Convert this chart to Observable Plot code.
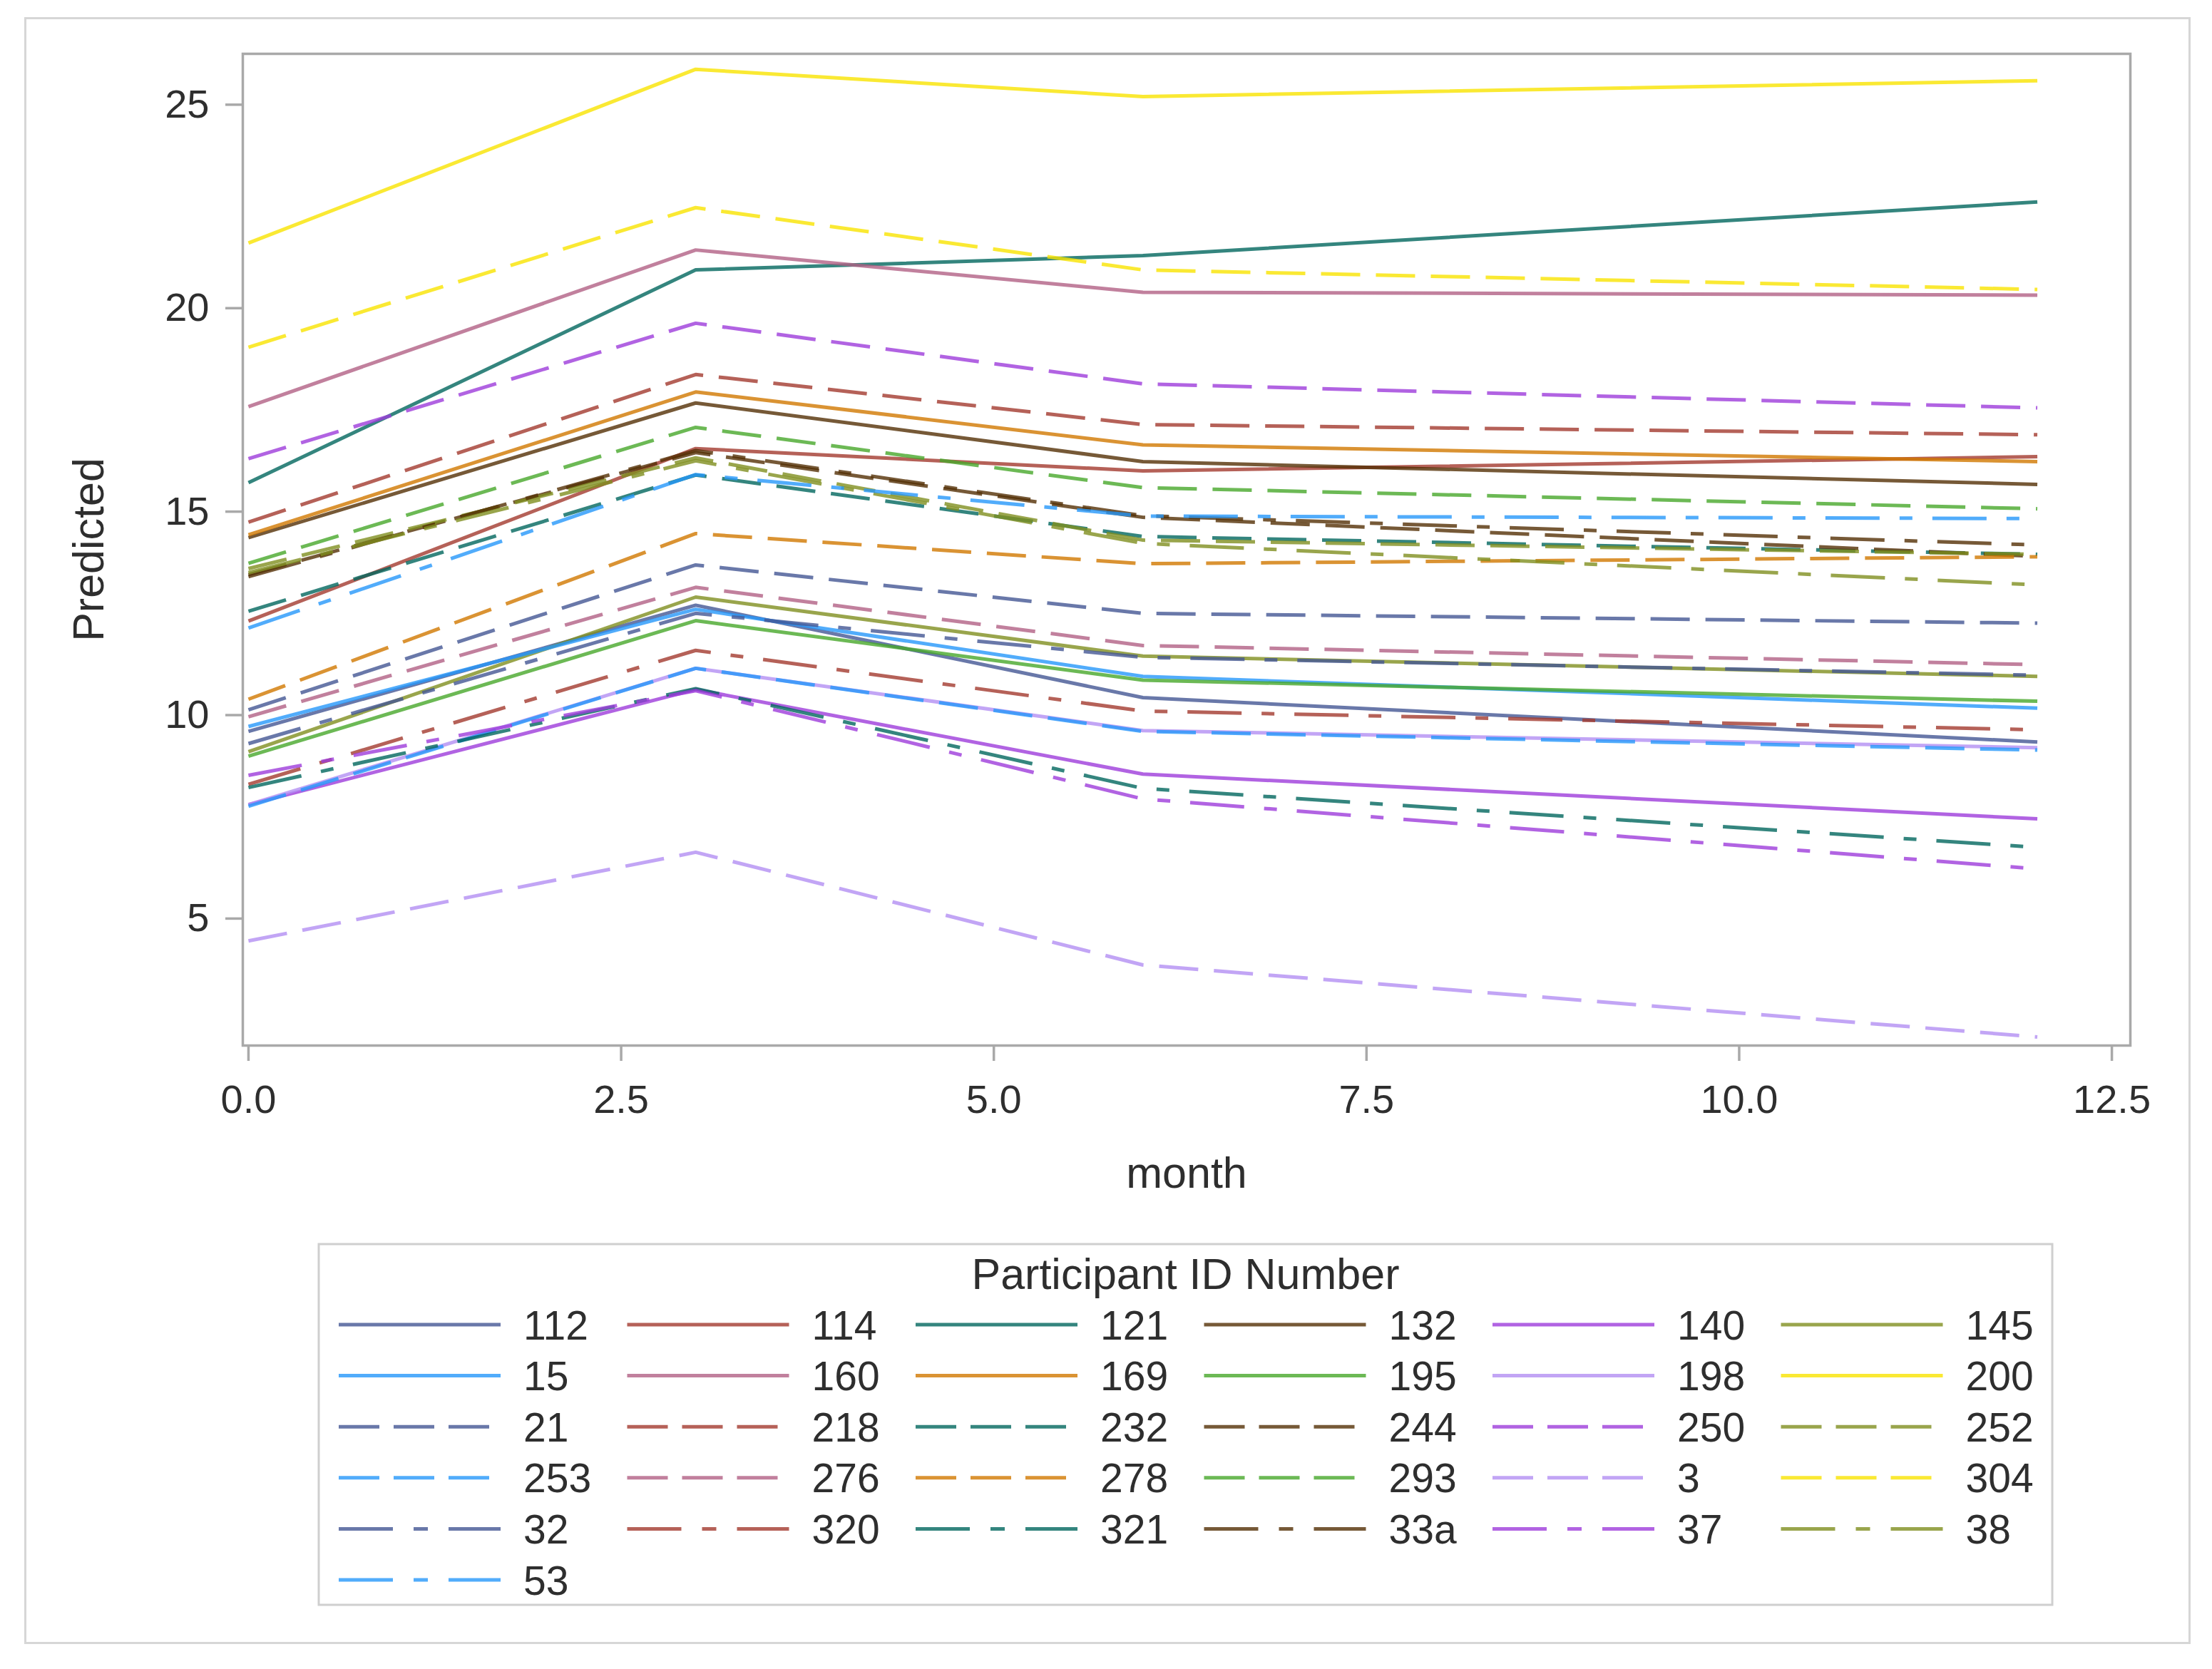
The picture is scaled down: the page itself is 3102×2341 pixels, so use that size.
<!DOCTYPE html>
<html>
<head>
<meta charset="utf-8">
<script src="https://cdn.jsdelivr.net/npm/d3@7"></script>
<script src="https://cdn.jsdelivr.net/npm/@observablehq/plot@0.6"></script>
<style>
  html, body { margin: 0; padding: 0; background: #ffffff; }
  body { width: 3102px; height: 2341px; position: relative; overflow: hidden; font-family: "Liberation Sans", Arial, sans-serif; }
  #outer { position: absolute; left: 34px; top: 24px; width: 3038px; height: 2282px; border: 3px solid #d6d6d6; box-sizing: border-box; }
  #chart { position: absolute; left: 0; top: 0; }
  #legend { position: absolute; left: 0; top: 0; }
</style>
</head>
<body>
<div id="outer"></div>
<div id="chart"></div>
<div id="legend"></div>
<script>
// ---------- data ----------
const months = [0, 3, 6, 12];
const ids = ["112","114","121","132","140","145",
             "15","160","169","195","198","200",
             "21","218","232","244","250","252",
             "253","276","278","293","3","304",
             "32","320","321","33a","37","38",
             "53"];
const month0  = [9.60,12.31,15.71,14.36,7.80,9.10, 9.72,17.58,14.43,8.99,7.80,21.60, 10.13,14.74,12.55,13.45,16.30,13.60, 7.76,9.96,10.39,13.73,4.45,19.04, 9.30,8.30,8.22,13.40,8.52,13.50, 12.14];
const month3  = [12.70,16.55,20.94,17.67,10.63,12.90, 12.60,21.43,17.94,12.32,11.15,25.87, 13.69,18.37,15.90,16.45,19.63,16.32, 11.15,13.14,14.46,17.07,6.63,22.47, 12.50,11.59,10.65,16.50,10.60,16.25, 15.91];
const month6  = [10.43,16.00,21.29,16.23,8.55,11.45, 10.95,20.39,16.64,10.86,9.62,25.20, 12.50,17.14,14.39,14.86,18.14,14.30, 9.60,11.71,13.72,15.59,3.86,20.94, 11.42,10.10,8.20,14.90,7.94,14.22, 14.89];
const month12 = [9.34,16.35,22.61,15.67,7.45,10.95, 10.17,20.32,16.23,10.34,9.20,25.59, 12.26,16.89,13.95,13.90,17.55,13.95, 9.14,11.24,13.89,15.07,2.09,20.46, 10.98,9.64,6.75,14.18,6.22,13.20, 14.83];
const palette = ["#445694","#A23A2E","#01665E","#543005","#9D3CDB","#7F8E1F",
                 "#2597FA","#B26084","#D17800","#47A82A","#B38EF3","#F9E300"];
const styleNames = ["solid","dashed","dashdot"];
const xTicks = [0, 2.5, 5, 7.5, 10, 12.5];
const yTicks = [5, 10, 15, 20, 25];

// ---------- build table ----------
const seriesValues = [month0, month3, month6, month12];
const styleOf = (i) => i < 12 ? "solid" : (i < 24 ? "dashed" : "dashdot");
const rows = [];
ids.forEach((id, i) => {
  months.forEach((m, j) => rows.push({id, month: m, value: seriesValues[j][i], style: styleOf(i)}));
});
const colorRange = ids.map((_, i) => palette[i % 12]);
const dashes = {solid: null, dashed: "55,22", dashdot: "76,28,18,28"};

const FONT = "'Liberation Sans', Arial, sans-serif";
const W = 3102, H = 1720;
const mL = 340, mR = 115, mT = 75, mB = H - 1466;
const LINE_W = 5, LINE_OP = 0.8;

const lineMarks = styleNames.map(s => Plot.line(rows.filter(r => r.style === s), {
  x: "month", y: "value", z: "id", stroke: "id",
  strokeWidth: LINE_W, strokeOpacity: LINE_OP,
  strokeDasharray: dashes[s] || undefined,
  strokeLinecap: "butt", strokeLinejoin: "miter"
}));

const chart = Plot.plot({
  width: W, height: H,
  marginLeft: mL, marginRight: mR, marginTop: mT, marginBottom: mB,
  style: {fontFamily: FONT, fontSize: "56px", color: "#2e2e2e", background: "transparent"},
  x: {domain: [-0.038, 12.624]},
  y: {domain: [1.88, 26.25]},
  color: {domain: ids, range: colorRange},
  marks: [
    ...lineMarks,
    Plot.frame({stroke: "#a9a9a9", strokeWidth: 3.5}),
    Plot.axisX({ticks: xTicks, tickFormat: d3.format(".1f"), tickSize: 22, tickPadding: 33,
                stroke: "#a9a9a9", strokeWidth: 3.5, fill: "#2e2e2e", fontSize: 56, label: null}),
    Plot.axisY({ticks: yTicks, tickFormat: d3.format("d"), tickSize: 24, tickPadding: 23,
                stroke: "#a9a9a9", strokeWidth: 3.5, fill: "#2e2e2e", fontSize: 56, label: null}),
    Plot.text(["month"], {text: d => d, frameAnchor: "bottom", dy: 180, lineAnchor: "middle",
                          textAnchor: "middle", fontSize: 61, fill: "#2e2e2e"}),
    Plot.text(["Predicted"], {text: d => d, frameAnchor: "left", dx: -215, rotate: -90,
                              textAnchor: "middle", lineAnchor: "middle", fontSize: 61, fill: "#2e2e2e"})
  ]
});
document.getElementById("chart").appendChild(chart);

// ---------- legend ----------
const legendTitle = "Participant ID Number";
const LX = 447, LY = 1745, LW = 2431, LH = 506;
const colX0 = 475, colStep = 404.5, rowY0 = 1858, rowStep = 71.6;
const sampleLen = 227, textOffset = 259;
const svg = d3.select("#legend").append("svg")
  .attr("width", W).attr("height", 2341)
  .style("font-family", FONT);
svg.append("rect").attr("x", LX).attr("y", LY).attr("width", LW).attr("height", LH)
  .attr("fill", "none").attr("stroke", "#cfcfcf").attr("stroke-width", 3);
svg.append("text").attr("x", LX + LW / 2).attr("y", 1786 + 0.36 * 61)
  .attr("text-anchor", "middle").attr("font-size", 61).attr("fill", "#2e2e2e").text(legendTitle);
ids.forEach((id, i) => {
  const c = i % 6, r = Math.floor(i / 6);
  const x = colX0 + c * colStep, y = rowY0 + r * rowStep;
  const s = styleOf(i);
  svg.append("line").attr("x1", x).attr("x2", x + sampleLen).attr("y1", y).attr("y2", y)
    .attr("stroke", colorRange[i]).attr("stroke-opacity", LINE_OP).attr("stroke-width", LINE_W)
    .attr("stroke-dasharray", s === "dashed" ? "57,20" : (s === "dashdot" ? "76,29,20,29" : null));
  svg.append("text").attr("x", x + textOffset).attr("y", y + 0.36 * 57)
    .attr("font-size", 57).attr("fill", "#2e2e2e").text(id);
});
</script>
</body>
</html>
